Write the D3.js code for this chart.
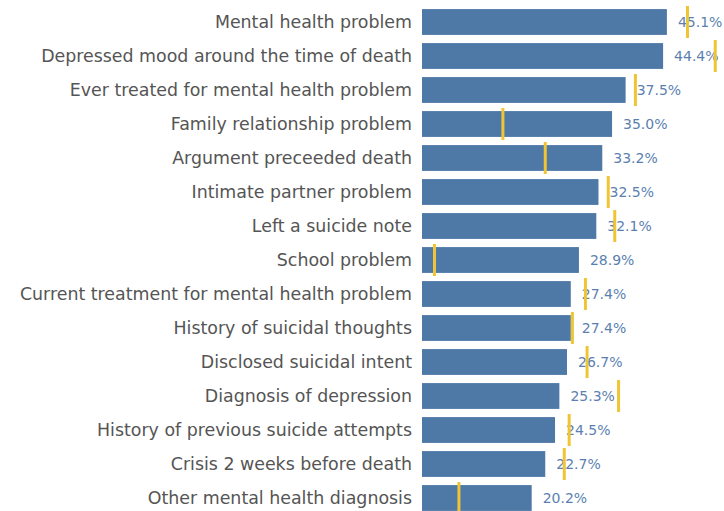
<!DOCTYPE html>
<html>
<head>
<meta charset="utf-8">
<script src="https://cdn.jsdelivr.net/npm/d3@7"></script>
<style>
  body { margin: 0; background: #fff; }
  svg { display: block; }
  .cat { font-family: "DejaVu Sans", Verdana, sans-serif; font-size: 17.4px; fill: #555; }
  .val { font-family: "DejaVu Sans", Verdana, sans-serif; font-size: 14px; fill: #5b7fb0; }
</style>
</head>
<body>
<div id="chart"></div>
<script>
// bar chart with yellow comparison marks
var categories = [
  "Mental health problem",
  "Depressed mood around the time of death",
  "Ever treated for mental health problem",
  "Family relationship problem",
  "Argument preceeded death",
  "Intimate partner problem",
  "Left a suicide note",
  "School problem",
  "Current treatment for mental health problem",
  "History of suicidal thoughts",
  "Disclosed suicidal intent",
  "Diagnosis of depression",
  "History of previous suicide attempts",
  "Crisis 2 weeks before death",
  "Other mental health diagnosis"
];
var values = [45.1, 44.4, 37.5, 35.0, 33.2, 32.5, 32.1, 28.9, 27.4, 27.4, 26.7, 25.3, 24.5, 22.7, 20.2];
var marks = [48.9, 54.0, 39.3, 14.9, 22.7, 34.3, 35.5, 2.3, 30.1, 27.7, 30.4, 36.2, 27.1, 26.2, 6.8];

var width = 724, height = 511;
var left = 422;

var svg = d3.select('#chart').append('svg')
  .attr('width', width)
  .attr('height', height);

var x = d3.scaleLinear()
  .domain([0, 50])
  .range([left, left + 50 * 5.43]);

var y = d3.scaleBand()
  .domain(categories)
  .range([5, 5 + 34 * categories.length])
  .paddingInner(0.24)
  .paddingOuter(0.12);

var data = categories.map(function(c, i) {
  return {cat: c, val: values[i], mark: marks[i]};
});

// bars
svg.selectAll('.bar')
  .data(data)
  .enter().append('rect')
  .attr('class', 'bar')
  .attr('x', x(0))
  .attr('y', function(d) { return y(d.cat); })
  .attr('width', function(d) { return x(d.val) - x(0); })
  .attr('height', y.bandwidth())
  .attr('fill', '#4e79a7');

// category labels
svg.selectAll('.cat')
  .data(data)
  .enter().append('text')
  .attr('class', 'cat')
  .attr('x', x(0) - 10)
  .attr('y', function(d) { return y(d.cat) + y.bandwidth() / 2; })
  .attr('dy', '0.35em')
  .attr('text-anchor', 'end')
  .text(function(d) { return d.cat; });

// value labels
svg.selectAll('.val')
  .data(data)
  .enter().append('text')
  .attr('class', 'val')
  .attr('x', function(d) { return x(d.val) + 11; })
  .attr('y', function(d) { return y(d.cat) + y.bandwidth() / 2; })
  .attr('dy', '0.35em')
  .text(function(d) { return d.val.toFixed(1) + '%'; });

// comparison marks
svg.selectAll('.mark')
  .data(data)
  .enter().append('line')
  .attr('class', 'mark')
  .attr('x1', function(d) { return x(d.mark); })
  .attr('x2', function(d) { return x(d.mark); })
  .attr('y1', function(d) { return y(d.cat) + y.bandwidth() / 2 - 16; })
  .attr('y2', function(d) { return y(d.cat) + y.bandwidth() / 2 + 16; })
  .attr('stroke', '#f0c534')
  .attr('stroke-width', 3);
</script>
</body>
</html>
